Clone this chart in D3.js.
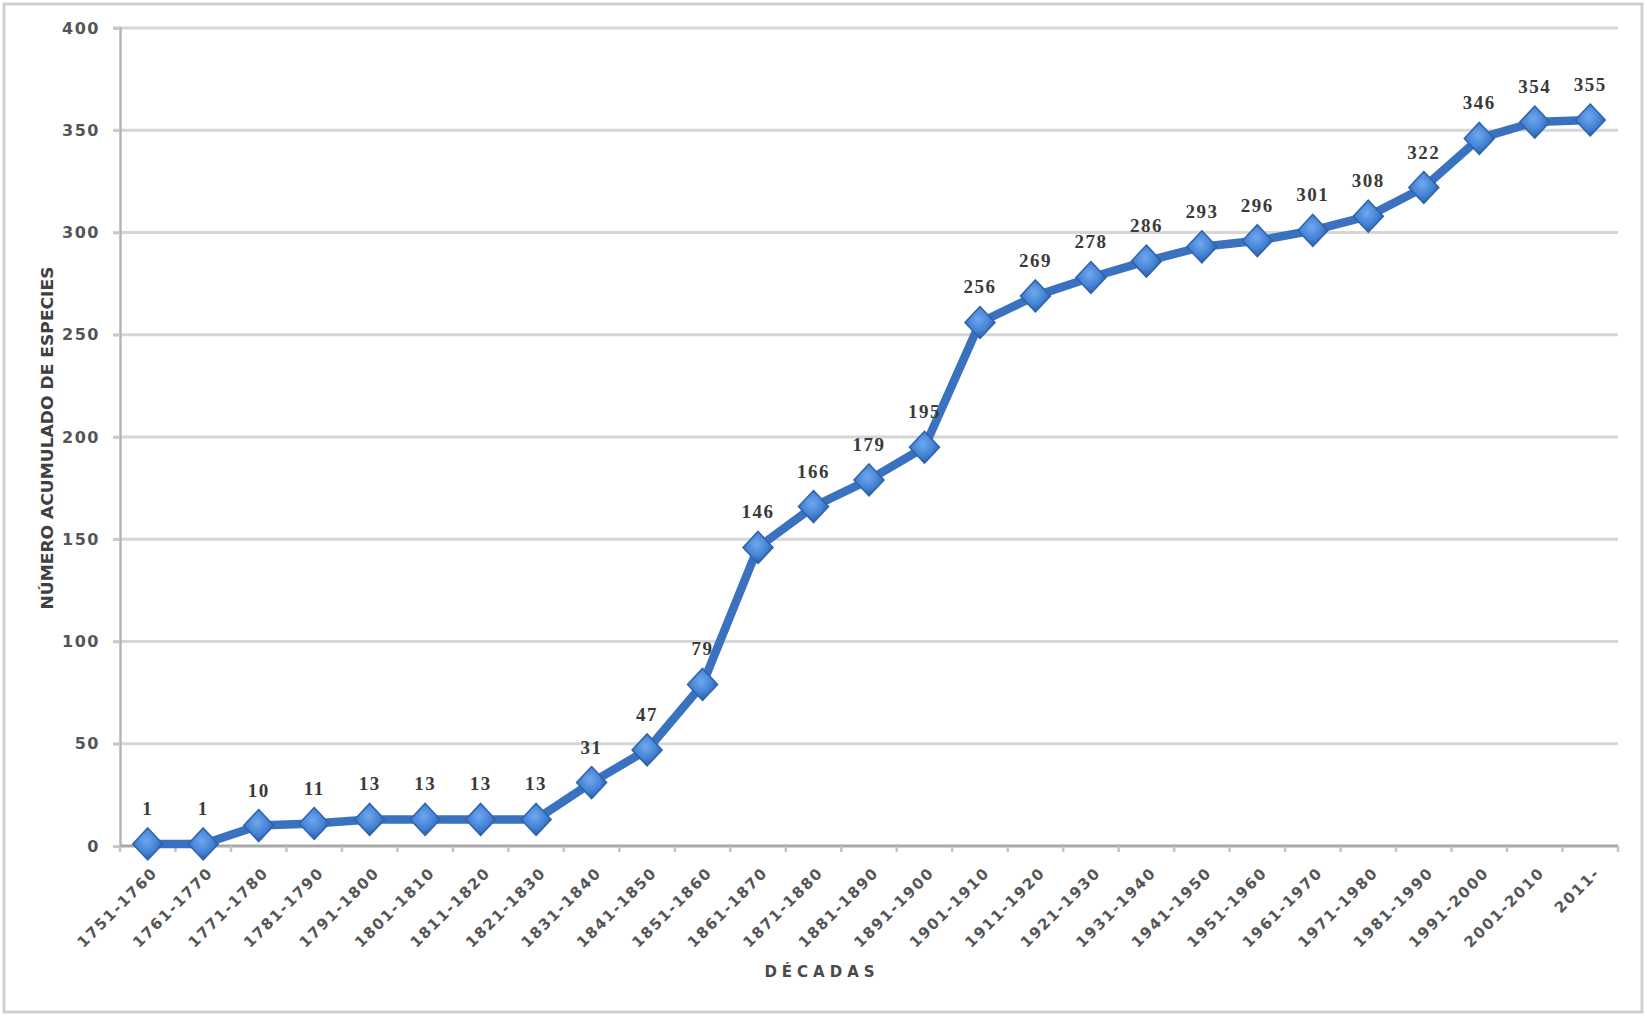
<!DOCTYPE html>
<html>
<head>
<meta charset="utf-8">
<script src="https://cdn.jsdelivr.net/npm/d3@7"></script>
<style>
  body { margin: 0; background: #fff; }
  svg { display: block; }
</style>
</head>
<body>
<div id="chart"></div>
<script>
// decades and cumulative number of species
const decadas = ["1751-1760","1761-1770","1771-1780","1781-1790","1791-1800","1801-1810",
  "1811-1820","1821-1830","1831-1840","1841-1850","1851-1860","1861-1870","1871-1880",
  "1881-1890","1891-1900","1901-1910","1911-1920","1921-1930","1931-1940","1941-1950",
  "1951-1960","1961-1970","1971-1980","1981-1990","1991-2000","2001-2010","2011-"];
const especies = [1,1,10,11,13,13,13,13,31,47,79,146,166,179,195,256,269,278,286,293,296,301,308,322,346,354,355];
const yTicks = [0,50,100,150,200,250,300,350,400];

const width = 1647, height = 1016;
const plotLeft = 120, plotRight = 1618, plotTop = 28, plotBottom = 846;

const svg = d3.select("#chart").append("svg")
    .attr("width", width)
    .attr("height", height);

// outer frame
svg.append("rect")
    .attr("x", 4).attr("y", 4)
    .attr("width", 1638).attr("height", 1008)
    .attr("fill", "#fff")
    .attr("stroke", "#cfcfcf")
    .attr("stroke-width", 3);

const x = d3.scaleBand().domain(decadas).range([plotLeft, plotRight]);
const y = d3.scaleLinear().domain([0, 400]).range([plotBottom, plotTop]);

// gridlines
svg.append("g").selectAll("line")
    .data(yTicks.filter(d => d > 0))
    .join("line")
    .attr("x1", plotLeft - 7).attr("x2", plotRight)
    .attr("y1", d => y(d)).attr("y2", d => y(d))
    .attr("stroke", "#d6d6d6")
    .attr("stroke-width", 3);

// y axis
const yAxis = svg.append("g")
    .attr("transform", `translate(${plotLeft},0)`)
    .call(d3.axisLeft(y).tickValues(yTicks).tickSize(7).tickPadding(13));
yAxis.select(".domain").attr("stroke", "#b5b5b5").attr("stroke-width", 2.5);
yAxis.selectAll(".tick line").attr("stroke", "#c8c8c8").attr("stroke-width", 2.5);
yAxis.selectAll("text")
    .attr("font-family", "DejaVu Sans, sans-serif")
    .attr("font-weight", "bold")
    .attr("font-size", 16)
    .attr("letter-spacing", 1.5)
    .attr("fill", "#555");

// x axis
const xAxis = svg.append("g")
    .attr("transform", `translate(0,${plotBottom})`)
    .call(d3.axisBottom(x).tickSize(0).tickPadding(0));
xAxis.select(".domain").remove();
xAxis.append("line")
    .attr("x1", plotLeft).attr("x2", plotRight)
    .attr("stroke", "#a8a8a8").attr("stroke-width", 3);
xAxis.selectAll(".bound")
    .data(decadas.map(d => x(d)).concat([plotRight]))
    .join("line")
    .attr("class", "bound")
    .attr("x1", d => d).attr("x2", d => d)
    .attr("y1", 0).attr("y2", 6)
    .attr("stroke", "#c4c4c4").attr("stroke-width", 2.5);
xAxis.selectAll(".tick text")
    .attr("font-family", "DejaVu Sans, sans-serif")
    .attr("font-weight", "bold")
    .attr("font-size", 15)
    .attr("letter-spacing", 1.8)
    .attr("fill", "#555")
    .attr("text-anchor", "end")
    .attr("dy", "0.35em")
    .attr("transform", "translate(7,24) rotate(-45)");

// axis titles
svg.append("text")
    .attr("x", 822).attr("y", 977)
    .attr("text-anchor", "middle")
    .attr("font-family", "DejaVu Sans, sans-serif")
    .attr("font-weight", "bold")
    .attr("font-size", 15)
    .attr("letter-spacing", 5)
    .attr("fill", "#4a4a4a")
    .text("DÉCADAS");

svg.append("text")
    .attr("transform", "translate(53,438) rotate(-90)")
    .attr("text-anchor", "middle")
    .attr("font-family", "DejaVu Sans Condensed, DejaVu Sans, sans-serif")
    .attr("font-weight", "bold")
    .attr("font-size", 15)
    .attr("textLength", 343)
    .attr("lengthAdjust", "spacingAndGlyphs")
    .attr("fill", "#404040")
    .text("NÚMERO ACUMULADO DE ESPECIES");

// marker gradient
const defs = svg.append("defs");
const grad = defs.append("radialGradient").attr("id", "mk")
    .attr("cx", "45%").attr("cy", "40%").attr("r", "60%");
grad.append("stop").attr("offset", "0%").attr("stop-color", "#6fa8ee");
grad.append("stop").attr("offset", "60%").attr("stop-color", "#4583d6");
grad.append("stop").attr("offset", "100%").attr("stop-color", "#2a5ea6");

const pts = decadas.map((d, i) => ({ cat: d, val: especies[i] }));
const cx = d => x(d.cat) + x.bandwidth() / 2;

// line
svg.append("path")
    .datum(pts)
    .attr("fill", "none")
    .attr("stroke", "#3b72c0")
    .attr("stroke-width", 8.5)
    .attr("stroke-linejoin", "round")
    .attr("d", d3.line().x(cx).y(d => y(d.val)));

// diamonds
svg.append("g").selectAll("path")
    .data(pts)
    .join("path")
    .attr("transform", d => `translate(${cx(d)},${y(d.val)})`)
    .attr("d", "M0,-16L15,0L0,16L-15,0Z")
    .attr("fill", "url(#mk)")
    .attr("stroke", "#2f62a8")
    .attr("stroke-width", 1.5);

// value labels
svg.append("g").selectAll("text")
    .data(pts)
    .join("text")
    .attr("x", cx)
    .attr("y", d => y(d.val) - 29)
    .attr("text-anchor", "middle")
    .attr("font-family", "Liberation Serif, serif")
    .attr("font-weight", "bold")
    .attr("font-size", 19)
    .attr("letter-spacing", 1.5)
    .attr("fill", "#3a3a3a")
    .text(d => d.val);
</script>
</body>
</html>
